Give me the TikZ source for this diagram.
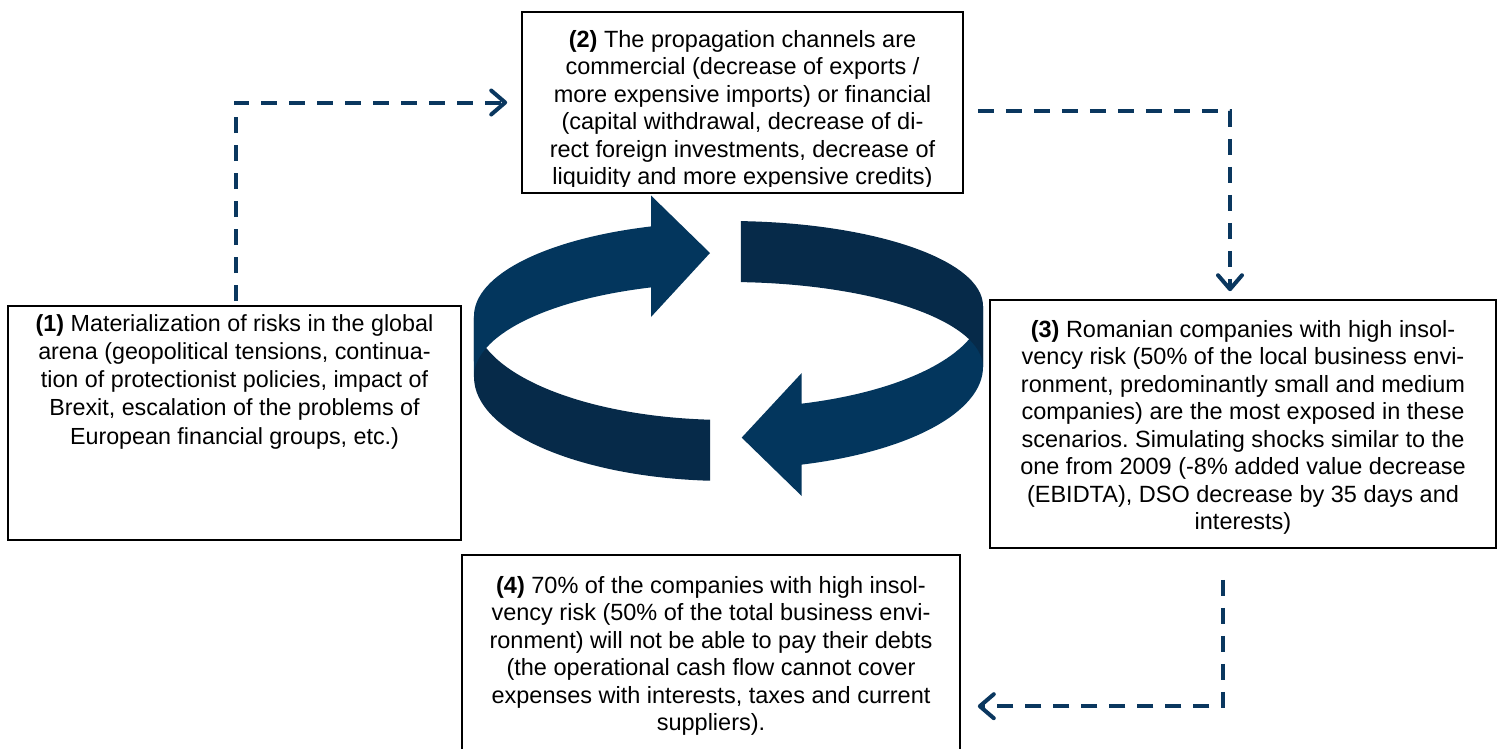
\documentclass[tikz,border=0pt]{standalone}
\usepackage{fontspec}
\setmainfont{Liberation Sans}
\usetikzlibrary{arrows.meta,calc}
\definecolor{ringlight}{HTML}{03365D}
\definecolor{ringdark}{HTML}{062A49}
\definecolor{linkblue}{HTML}{0A375F}
\frenchspacing
\begin{document}
\begin{tikzpicture}[x=1pt,y=-1pt,
  box/.style={draw=black, line width=1.6pt, inner sep=0pt},
  txt/.style={anchor=base, inner sep=0pt, text=black},
  link/.style={draw=linkblue, line width=4pt, dash pattern=on 16pt off 12pt,
    -{Straight Barb[length=14pt,width=24pt,round]}},
]
\clip (0,0) rectangle (1497,748);

% circular arrow: front parts first, back parts on top
\fill[ringdark] (710,419.7) arc[start angle=94.06,end angle=180,x radius=254,y radius=104]
  -- (474,377) arc[start angle=180,end angle=94.06,x radius=254,y radius=104] -- cycle;
\fill[ringlight] (983,306) arc[start angle=0,end angle=73.2,x radius=255,y radius=102]
  -- (801.7,373) -- (741.7,437.6) -- (801.7,496) -- (801.7,464.6)
  arc[start angle=73.2,end angle=0,x radius=255,y radius=102] -- cycle;
\fill[ringlight] (474,316) arc[start angle=180,end angle=252.4,x radius=254,y radius=94]
  -- (651,195.5) -- (710,253) -- (651,317) -- (651,287.4)
  arc[start angle=252.4,end angle=180,x radius=254,y radius=94] -- cycle;
\fill[ringdark] (740.9,221.1) arc[start angle=272.9,end angle=360,x radius=255,y radius=85]
  -- (983,367) arc[start angle=0,end angle=-87.1,x radius=255,y radius=85] -- cycle;

% boxes
\node[box, minimum width=453pt, minimum height=234pt] (b1) at (234.5,423) {};
\node[box, minimum width=441pt, minimum height=181pt] (b2) at (742.5,102.5) {};
\node[box, minimum width=506pt, minimum height=248pt] (b3) at (1243,424) {};
\node[box, minimum width=498pt, minimum height=220pt] (b4) at (711,665) {};

% texts
\node[txt] (t1) at (234.5,331) {\parbox[t]{480pt}{\centering\fontsize{23.3}{28.3}\selectfont
  \textbf{(1)} Materialization of risks in the global\\
  arena (geopolitical tensions, continua-\\
  tion of protectionist policies, impact of\\
  Brexit, escalation of the problems of\\
  European financial groups, etc.)}};
\begin{scope}
  % the text frame of box 2 is shorter than the box and cuts the last line
  \clip ([yshift=-1pt]b2.north west) rectangle ([yshift=7.5pt]b2.south east);
  \node[txt] (t2) at (742.5,47) {\parbox[t]{480pt}{\centering\fontsize{23.5}{27.5}\selectfont
    \textbf{(2)} The propagation channels are\\
    commercial (decrease of exports /\\
    more expensive imports) or financial\\
    (capital withdrawal, decrease of di-\\
    rect foreign investments, decrease of\\
    liquidity and more expensive credits)}};
\end{scope}
\node[txt] (t3) at (1243,337) {\parbox[t]{500pt}{\centering\fontsize{23.5}{27.5}\selectfont
  \textbf{(3)} Romanian companies with high insol-\\
  vency risk (50\% of the local business envi-\\
  ronment, predominantly small and medium\\
  companies) are the most exposed in these\\
  scenarios. Simulating shocks similar to the\\
  one from 2009 (-8\% added value decrease\\
  (EBIDTA), DSO decrease by 35 days and\\
  interests)}};
\node[txt] (t4) at (711,593) {\parbox[t]{500pt}{\centering\fontsize{23.5}{27.5}\selectfont
  \textbf{(4)} 70\% of the companies with high insol-\\
  vency risk (50\% of the total business envi-\\
  ronment) will not be able to pay their debts\\
  (the operational cash flow cannot cover\\
  expenses with interests, taxes and current\\
  suppliers).}};

% dashed connectors
\draw[link] ([xshift=1.5pt,yshift=4pt]b1.north) |- ([xshift=-14pt]b2.west);
\draw[link] ([xshift=14pt,yshift=-8.5pt]b2.east) -| ([xshift=-13pt,yshift=8pt]b3.north);
\draw[link] ([xshift=-20pt,yshift=-31pt]b3.south) |- ($(b4.north east)+(17,152)$);
\end{tikzpicture}
\end{document}
